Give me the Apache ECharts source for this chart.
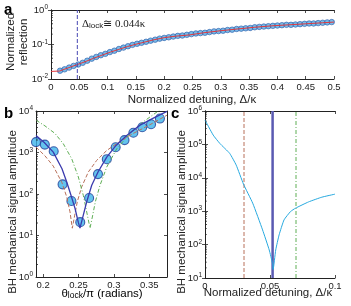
<!DOCTYPE html>
<html><head><meta charset="utf-8">
<script src="https://cdn.jsdelivr.net/npm/echarts@6/dist/echarts.min.js"></script>
<style>html,body{margin:0;padding:0;background:#fff}#c{width:351px;height:306px}</style>
</head><body><div id="c"></div><script>
// ---------- Panel a ----------
const aLineX = [0, 0.015, 0.03, 0.045, 0.06, 0.075, 0.09, 0.105, 0.12, 0.135, 0.15, 0.165, 0.18, 0.2, 0.22, 0.245, 0.27, 0.3, 0.33, 0.36, 0.39, 0.42, 0.45, 0.48, 0.5];
const aLineY = [0.0166, 0.0170, 0.0209, 0.0257, 0.0316, 0.0398, 0.049, 0.0603, 0.0724, 0.0871, 0.102, 0.117, 0.135, 0.158, 0.174, 0.19, 0.219, 0.251, 0.282, 0.316, 0.347, 0.372, 0.398, 0.427, 0.447];
const aPtsX = [0.016,0.024,0.032,0.040,0.048,0.056,0.064,0.072,0.080,0.088,0.096,0.104,0.112,0.120,0.128,0.136,0.144,0.152,0.160,0.168,0.176,0.184,0.192,0.200,0.208,0.216,0.224,0.232,0.240,0.248,0.256,0.264,0.272,0.280,0.288,0.296,0.304,0.312,0.320,0.328,0.336,0.344,0.352,0.360,0.368,0.376,0.384,0.392,0.400,0.408,0.416,0.424,0.432,0.440,0.448,0.456,0.464,0.472,0.480,0.488,0.496];
const aPtsY = [0.0174,0.0191,0.0214,0.0240,0.0263,0.0295,0.0339,0.0389,0.0437,0.0490,0.0537,0.0603,0.0661,0.0741,0.0813,0.0891,0.0977,0.105,0.112,0.120,0.129,0.138,0.148,0.155,0.162,0.170,0.178,0.182,0.191,0.200,0.209,0.214,0.219,0.229,0.240,0.245,0.251,0.263,0.269,0.282,0.288,0.295,0.302,0.316,0.324,0.331,0.339,0.347,0.355,0.363,0.372,0.372,0.380,0.389,0.398,0.407,0.407,0.417,0.427,0.437,0.447];
const aLockX = 0.0465;
const aXTicks = [0,0.05,0.1,0.15,0.2,0.25,0.3,0.35,0.4,0.45,0.5];
const aYTicks = [0.01, 0.1, 1];

// ---------- Panel b ----------
const bPtsX = [0.19,0.2025,0.215,0.2275,0.24,0.2525,0.265,0.2775,0.29,0.3025,0.315,0.3275,0.34,0.3525,0.365];
const bPtsY = [1780,1550,1070,171,68,21,80,302,690,1340,1990,3000,4060,4780,6570];
const bBlueX = [0.19,0.2017,0.2144,0.2267,0.2334,0.2394,0.2451,0.2497,0.2521,0.2568,0.2616,0.2687,0.2776,0.2899,0.3030,0.3181,0.3369,0.3557,0.375];
const bBlueY = [2570,1740,1020,407,195,93,45,21,15,31,65,162,339,776,1480,2570,4570,6760,9770];
const bBrownX = [0.19,0.2027,0.2144,0.2267,0.2334,0.238,0.2413,0.2447,0.2483,0.2545,0.2639,0.2757,0.2899,0.3087,0.3274,0.351,0.375];
const bBrownY = [1350,830,470,187,85,37,15,31,65,148,339,646,1120,1860,2880,4680,7940];
const bGreenX = [0.19,0.2027,0.2168,0.2286,0.2404,0.2498,0.2568,0.2616,0.2663,0.2701,0.2738,0.2804,0.2899,0.304,0.3228,0.3416,0.3627,0.37];
const bGreenY = [6030,4370,2880,1620,708,257,93,37,15,31,65,162,447,1230,2880,5500,10000,12500];
const bXTicks = [0.2,0.25,0.3,0.35];
const bYTicks = [1,10,100,1000,10000];

// ---------- Panel c ----------
const cX = [0,0.0063,0.0114,0.019,0.024,0.0296,0.0367,0.0443,0.0494,0.0519,0.0524,0.0544,0.057,0.0608,0.0658,0.0696,0.0797,0.0899,0.1];
const cY = [537000,190000,107000,53700,24000,6460,1740,275,69,27.5,18,69,195,550,977,1230,1900,2630,3240];
const cVLines = [0.03, 0.052, 0.07];
const cXTicks = [0,0.05,0.1];
const cYTicks = [10,100,1000,10000,100000,1000000];

const minorMult = [2,3,4,5,6,7,8,9];
const aDecades = [0.01, 0.1];
const bDecades = [1,10,100,1000];
const cDecades = [10,100,1000,10000,100000];

const FONT = 'Liberation Sans, Arial, sans-serif';
const TXT = '#222';
function zip(xs, ys){ return xs.map((x,i)=>[x, ys[i]]); }
function minors(dec){ const r=[]; dec.forEach(d=>minorMult.forEach(m=>r.push(m*d))); return r; }
function logLabel(v){ const e = Math.round(Math.log10(v)); return '{b|10}{s|' + (e<0?'-'+(-e):e) + '}'; }
const richLog = { b:{fontSize:9.5, fontFamily:FONT, color:TXT, lineHeight:12, verticalAlign:'middle'}, s:{fontSize:6.5, fontFamily:FONT, color:TXT, lineHeight:7, verticalAlign:'top'} };

function xAx(gi, min, max, ticks, top){
  const ax = { type:'value', gridIndex:gi, min, max, position: top?'top':'bottom',
    axisLine:{show:true, lineStyle:{color:TXT, width:1}},
    axisTick:{show:true, inside:true, length:3, customValues: ticks, lineStyle:{color:TXT, width:0.8}},
    splitLine:{show:false} };
  ax.axisLabel = top ? {show:false} : {show:true, customValues: ticks, fontSize:9.5, fontFamily:FONT, color:TXT, margin:3,
      formatter: v => String(+v.toFixed(3))};
  return ax;
}
function yAx(gi, min, max, ticks, right){
  const ax = { type:'log', logBase:10, gridIndex:gi, min, max, position: right?'right':'left',
    axisLine:{show:true, lineStyle:{color:TXT, width:1}},
    axisTick:{show:true, inside:true, length:3, customValues: ticks, lineStyle:{color:TXT, width:0.8}},
    splitLine:{show:false}, minorTick:{show:false} };
  ax.axisLabel = right ? {show:false} : {show:true, customValues: ticks, margin:3, formatter: logLabel, rich: richLog};
  return ax;
}
// minor log ticks on the left axis, drawn as tiny rect symbols placed through the axes' own scales
function minorTicks(xi, yi, xEdge, vals, dir){
  return { type:'scatter', xAxisIndex:xi, yAxisIndex:yi, silent:true, clip:false, z:5,
    data: vals.map(v=>[xEdge, v]), symbol:'rect', symbolSize:[2,0.8], symbolOffset:[dir, 0],
    itemStyle:{color:TXT}, emphasis:{disabled:true} };
}

const BROWN = '#b8705a', GREEN = '#5fae55', INDIGO = '#3b3bae';
const gridBase = {show:false, outerBoundsMode:'none', containLabel:false};

const option = {
  animation:false,
  grid:[
    Object.assign({left:51, top:10, width:283, height:69}, gridBase),
    Object.assign({left:36, top:111, width:131, height:166}, gridBase),
    Object.assign({left:205, top:111, width:130, height:167}, gridBase)
  ],
  xAxis:[ xAx(0,0,0.5,aXTicks,false), xAx(0,0,0.5,aXTicks,true),
          xAx(1,0.19,0.375,bXTicks,false), xAx(1,0.19,0.375,bXTicks,true),
          xAx(2,0,0.1,cXTicks,false), xAx(2,0,0.1,cXTicks,true) ],
  yAxis:[ yAx(0,0.01,1,aYTicks,false), yAx(0,0.01,1,aYTicks,true),
          yAx(1,1,10000,bYTicks,false), yAx(1,1,10000,bYTicks,true),
          yAx(2,10,1000000,cYTicks,false), yAx(2,10,1000000,cYTicks,true) ],
  series:[
    { type:'scatter', xAxisIndex:0, yAxisIndex:0, data: zip(aPtsX,aPtsY), symbolSize:5.5,
      itemStyle:{color:'#55aae2', borderColor:'#2b5aa8', borderWidth:0.8} },
    { type:'line', xAxisIndex:0, yAxisIndex:0, data: zip(aLineX,aLineY), symbol:'none',
      lineStyle:{color:'#e3373c', width:1} },
    { type:'line', xAxisIndex:0, yAxisIndex:0, data: [[aLockX,0.01],[aLockX,1]], symbol:'none',
      lineStyle:{color:'#4646b4', width:1, type:[4,2]} },
    minorTicks(0,0,0,minors(aDecades),1),
    { type:'line', xAxisIndex:2, yAxisIndex:2, data: zip(bBrownX,bBrownY), symbol:'none',
      lineStyle:{color:BROWN, width:1, type:[4,2]} },
    { type:'line', xAxisIndex:2, yAxisIndex:2, data: zip(bGreenX,bGreenY), symbol:'none',
      lineStyle:{color:GREEN, width:1, type:[4,2,1,2]} },
    { type:'line', xAxisIndex:2, yAxisIndex:2, data: zip(bBlueX,bBlueY), symbol:'none',
      lineStyle:{color:INDIGO, width:1.3} },
    { type:'scatter', xAxisIndex:2, yAxisIndex:2, data: zip(bPtsX,bPtsY), symbolSize:9, clip:false,
      itemStyle:{color:'#3db4ea', borderColor:'#1e3c96', borderWidth:1.1} },
    minorTicks(2,2,0.19,minors(bDecades),1),
    { type:'line', xAxisIndex:4, yAxisIndex:4, data: [[cVLines[0],10],[cVLines[0],1000000]], symbol:'none',
      lineStyle:{color:BROWN, width:1, type:[4,2]} },
    { type:'line', xAxisIndex:4, yAxisIndex:4, data: [[cVLines[2],10],[cVLines[2],1000000]], symbol:'none',
      lineStyle:{color:GREEN, width:1, type:[4,2,1,2]} },
    { type:'line', xAxisIndex:4, yAxisIndex:4, data: [[cVLines[1],10],[cVLines[1],1000000]], symbol:'none',
      lineStyle:{color:'#5a5ab2', width:2.5} },
    { type:'line', xAxisIndex:4, yAxisIndex:4, data: zip(cX,cY), symbol:'none', smooth:0.15,
      lineStyle:{color:'#27a9df', width:1} },
    minorTicks(4,4,0,minors(cDecades),1)
  ],
  graphic:[
    {type:'text', x:4, y:10, style:{text:'a', font:'bold 15px '+FONT, fill:'#000', verticalAlign:'middle'}},
    {type:'text', x:4, y:114, style:{text:'b', font:'bold 15px '+FONT, fill:'#000', verticalAlign:'middle'}},
    {type:'text', x:171, y:114, style:{text:'c', font:'bold 15px '+FONT, fill:'#000', verticalAlign:'middle'}},
    {type:'text', x:82, y:24, style:{text:'{n|Δ}{sub|lock}{n|≅ 0.044κ}', verticalAlign:'middle',
      rich:{n:{fontSize:11, fontFamily:'Liberation Serif, serif', fill:TXT, color:TXT, verticalAlign:'middle', lineHeight:12},
            sub:{fontSize:8, fontFamily:FONT, fill:TXT, color:TXT, verticalAlign:'bottom', lineHeight:8}}}},
    {type:'text', x:192, y:100, style:{text:'Normalized detuning, Δ/κ', font:'11.5px '+FONT, fill:TXT, align:'center', verticalAlign:'middle'}},
    {type:'text', x:11, y:42, rotation:Math.PI/2, style:{text:'Normalized', font:'11.5px '+FONT, fill:TXT, align:'center', verticalAlign:'middle'}},
    {type:'text', x:24, y:42, rotation:Math.PI/2, style:{text:'reflection', font:'11.5px '+FONT, fill:TXT, align:'center', verticalAlign:'middle'}},
    {type:'text', x:13, y:212, rotation:Math.PI/2, style:{text:'BH mechanical signal amplitude', font:'11.5px '+FONT, fill:TXT, align:'center', verticalAlign:'middle'}},
    {type:'text', x:182, y:212, rotation:Math.PI/2, style:{text:'BH mechanical signal amplitude', font:'11.5px '+FONT, fill:TXT, align:'center', verticalAlign:'middle'}},
    {type:'text', x:102, y:294, style:{text:'{n|θ}{sub|lock}{n|/π (radians)}', align:'center', verticalAlign:'middle',
      rich:{n:{fontSize:11.5, fontFamily:FONT, color:TXT, verticalAlign:'middle', lineHeight:13},
            sub:{fontSize:8.5, fontFamily:FONT, color:TXT, verticalAlign:'bottom', lineHeight:9}}}},
    {type:'text', x:268, y:293, style:{text:'Normalized detuning, Δ/κ', font:'11.5px '+FONT, fill:TXT, align:'center', verticalAlign:'middle'}}
  ]
};
const chart = echarts.init(document.getElementById('c'), null, {renderer:'canvas'});
chart.setOption(option);
</script></body></html>
